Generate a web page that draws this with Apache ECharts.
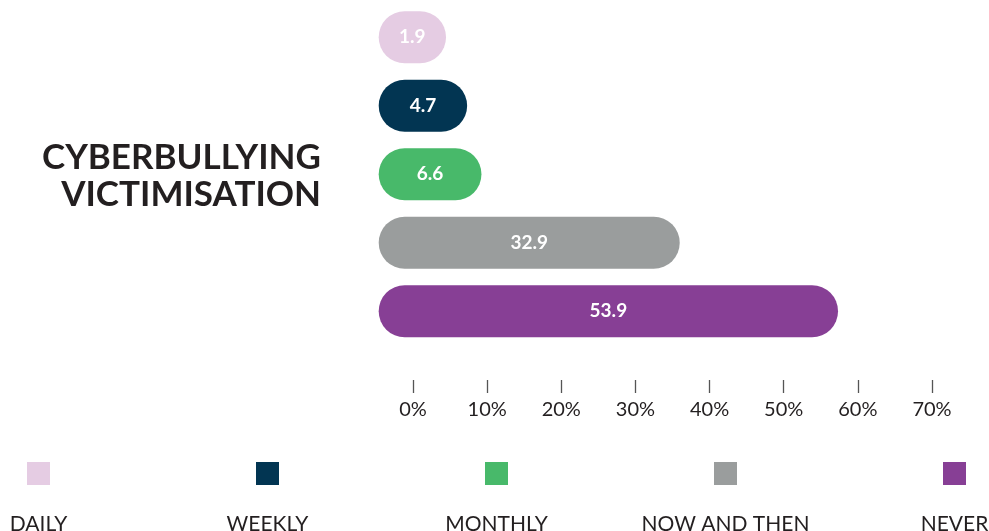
<!DOCTYPE html>
<html>
<head>
<meta charset="utf-8">
<script src="https://cdn.jsdelivr.net/npm/echarts@6/dist/echarts.min.js"></script>
<style>
html,body{margin:0;padding:0;background:#fff;}
#chart{width:989px;height:531px;}
</style>
</head>
<body>
<div id="chart"></div>
<script>
// ---- data ----
var categories = ['DAILY', 'WEEKLY', 'MONTHLY', 'NOW AND THEN', 'NEVER'];
var values = [1.9, 4.7, 6.6, 32.9, 53.9];
var colors = ['#E5CCE3', '#023552', '#48B96A', '#9A9D9D', '#873F95'];
var tickValues = [0, 10, 20, 30, 40, 50, 60, 70];
var titleLines = ['CYBERBULLYING', 'VICTIMISATION'];

// ---- style constants ----
var FONT = 'Lato';
var BAR_H = 52;
var LEAD = 53;      // rounded lead-in of each bar before its zero point
var TEXT = '#231F20';

var chart = echarts.init(document.getElementById('chart'), null, {renderer: 'canvas'});

var graphics = [];
var legendStart = 38.5, legendPitch = 229;
categories.forEach(function (c, i) {
  var cx = legendStart + i * legendPitch;
  graphics.push({
    type: 'rect', shape: {x: cx - 11.5, y: 462, width: 23, height: 23},
    style: {fill: colors[i]}
  });
  graphics.push({
    type: 'text', x: cx, y: 524,
    style: {text: c, align: 'center', verticalAlign: 'middle', fill: TEXT,
            font: '21px ' + FONT}
  });
});
titleLines.forEach(function (t, i) {
  graphics.push({
    type: 'text', x: 321, y: 157.5 + i * 37,
    style: {text: t, align: 'right', verticalAlign: 'middle', fill: TEXT,
            font: 'bold 35px ' + FONT}
  });
});

var option = {
  backgroundColor: '#ffffff',
  animation: false,
  grid: [
    {left: 413, width: 519, top: 3, bottom: 151},
    {left: 431.7, width: 527.7, top: 3, height: 342.5}
  ],
  xAxis: [
    {
      gridIndex: 0, type: 'value', min: 0, max: 70, interval: 10,
      axisLine: {show: false},
      splitLine: {show: false},
      axisTick: {show: true, length: 13, lineStyle: {color: '#555', width: 1.3}},
      axisLabel: {margin: 20, formatter: '{value}%', fontFamily: FONT, fontSize: 20, color: TEXT}
    },
    {
      gridIndex: 1, type: 'value', min: 0, max: 70, show: false
    }
  ],
  yAxis: [
    {gridIndex: 0, type: 'value', show: false},
    {gridIndex: 1, type: 'category', data: categories, inverse: true, show: false}
  ],
  graphic: graphics,
  series: [{
    type: 'custom',
    xAxisIndex: 1, yAxisIndex: 1,
    encode: {x: 0, y: 1},
    data: values.map(function (v, i) { return [v, i]; }),
    renderItem: function (params, api) {
      var v = api.value(0), idx = api.value(1);
      var end = api.coord([v, idx]);
      var zero = api.coord([0, idx]);
      var x0 = zero[0] - LEAD;
      return {
        type: 'group',
        children: [
          {type: 'rect',
           shape: {x: x0, y: end[1] - BAR_H / 2, width: end[0] - x0, height: BAR_H, r: BAR_H / 2},
           style: {fill: colors[idx]}},
          {type: 'text', x: (x0 + end[0]) / 2, y: end[1],
           style: {text: values[idx].toFixed(1), align: 'center', verticalAlign: 'middle',
                   fill: '#ffffff', font: 'bold 19px ' + FONT}}
        ]
      };
    }
  }]
};
chart.setOption(option);
</script>
</body>
</html>
